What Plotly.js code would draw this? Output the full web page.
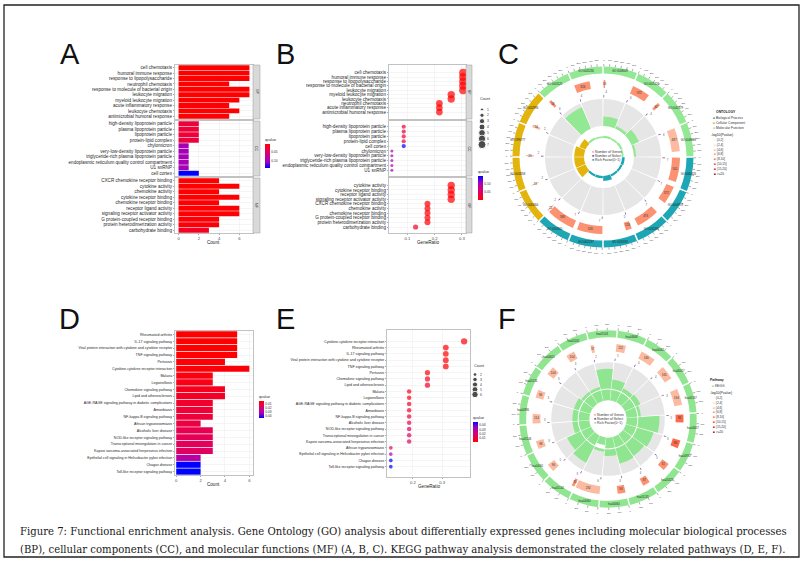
<!DOCTYPE html>
<html><head><meta charset="utf-8">
<script src="https://cdn.plot.ly/plotly-3.0.1.min.js"></script>
<style>html,body{margin:0;padding:0;background:#fff}#chart{width:805px;height:566px}</style>
</head><body><div id="chart"></div>
<script>
// ================= DATA =================
// GO terms (panel A order, by p-value)
const bpTerms = ["cell chemotaxis","humoral immune response","response to lipopolysaccharide","neutrophil chemotaxis","response to molecule of bacterial origin","leukocyte migration","myeloid leukocyte migration","acute inflammatory response","leukocyte chemotaxis","antimicrobial humoral response"];
const bpCounts = [7,7,7,5,7,7,6,5,6,5];
const bpQ = [0.002,0.002,0.002,0.003,0.002,0.002,0.003,0.004,0.003,0.004];
const ccTerms = ["high-density lipoprotein particle","plasma lipoprotein particle","lipoprotein particle","protein-lipid complex","chylomicron","very-low-density lipoprotein particle","triglyceride-rich plasma lipoprotein particle","endoplasmic reticulum quality control compartment","U1 snRNP","cell cortex"];
const ccCounts = [2,2,2,2,1,1,1,1,1,2];
const ccQ = [0.028,0.028,0.028,0.03,0.1,0.1,0.1,0.1,0.1,0.145];
const mfTerms = ["CXCR chemokine receptor binding","cytokine activity","chemokine activity","cytokine receptor binding","chemokine receptor binding","receptor ligand activity","signaling receptor activator activity","G protein-coupled receptor binding","protein heterodimerization activity","carbohydrate binding"];
const mfCounts = [4,6,4,6,4,6,6,4,4,3];
const mfQ = [0.003,0.003,0.003,0.003,0.004,0.004,0.004,0.005,0.006,0.018];
const goListSize = 23;
const goCountLevels = [1,2,3,4,5,6,7];

// KEGG pathways (panel D order, by p-value)
const keggTerms = ["Rheumatoid arthritis","IL-17 signaling pathway","Viral protein interaction with cytokine and cytokine receptor","TNF signaling pathway","Pertussis","Cytokine-cytokine receptor interaction","Malaria","Legionellosis","Chemokine signaling pathway","Lipid and atherosclerosis","AGE-RAGE signaling pathway in diabetic complications","Amoebiasis","NF-kappa B signaling pathway","African trypanosomiasis","Alcoholic liver disease","NOD-like receptor signaling pathway","Transcriptional misregulation in cancer","Kaposi sarcoma-associated herpesvirus infection","Epithelial cell signaling in Helicobacter pylori infection","Chagas disease","Toll-like receptor signaling pathway"];
const keggCounts = [5,5,5,5,4,6,3,3,4,4,3,3,3,2,3,3,3,3,2,2,2];
const keggQ = [0.0015,0.0016,0.0018,0.002,0.0025,0.003,0.004,0.005,0.006,0.007,0.008,0.009,0.010,0.011,0.013,0.014,0.015,0.016,0.029,0.047,0.047];
const keggListSize = 16;
const keggCountLevels = [2,3,4,5,6];

// GO circle (panel C), clockwise from 3 o'clock
const circGoIds = ["GO:0060326","GO:0006959","GO:0032496","GO:0030593","GO:0002237","GO:0050900","GO:0034364","GO:0034358","GO:1990777","GO:0032994","GO:0005125","GO:0045236","GO:0008009","GO:0005126","GO:0042379","GO:0048018"];
const circGoOnt = ["BP","BP","BP","BP","BP","BP","CC","CC","CC","CC","MF","MF","MF","MF","MF","MF"];
const circGoBg = [505,372,476,126,526,588,22,18,26,54,58,326,33,372,62,487];
const circGoSel = [7,7,7,5,7,7,2,2,2,2,6,4,4,6,4,6];
const circGoLogP = [7,7,7,7,7,7,5,5,5,5,7,7,7,7,7,5];
const circGoRich = [0,0,0,0,0,0,0,0,0,0,0.85,0,0.35,0.1,0.3,0.08];
const circGoInner = [0.25,0.2,0.2,0.45,0.2,0.2,0.9,0.9,0.9,0.6,0.2,0.15,0.2,0.15,0.2,0.15];

// KEGG circle (panel F)
const circKeggIds = ["hsa04657","hsa04933","hsa05323","hsa05133","hsa04064","hsa04060","hsa05144","hsa04061","hsa05146","hsa04936","hsa05134","hsa04621","hsa05202","hsa05143","hsa04668","hsa04062","hsa05417","hsa05167"];
const circKeggBg = [95,96,92,87,94,292,35,96,98,114,96,104,104,37,112,180,165,194];
const circKeggSel = [5,3,5,4,3,6,3,5,3,3,3,3,3,2,5,4,4,3];
const circKeggLogP = [9,8.5,7,7,7,5.5,7,5,5,5,5,5,5,5,5,4.5,4.5,4.5];
const circKeggRich = [0.8,0.65,0.55,0.6,0.25,0.1,0.7,0.55,0.2,0.2,0.2,0.1,0.1,0.75,0.35,0.15,0.2,0.1];
const circKeggInner = [1,1,1,1,1,0.7,1,1,1,1,1,1,1,1,1,1,1,1];

const ontLabels = ["Biological Process","Cellular Component","Molecular Function"];
const pBinLabels = ["(0,2]","(2,4]","(4,6]","(6,8]","(8,10]","(10,15]","(15,20]",">=20"];
const pBinEdges = [2,4,6,8,10,15,20];

const captionLines = [
 "Figure 7: Functional enrichment analysis. Gene Ontology (GO) analysis about differentially expressed genes including molecular biological processes",
 "(BP), cellular components (CC), and molecular functions (MF) (A, B, C). KEGG pathway analysis demonstrated the closely related pathways (D, E, F)."
];

// ================= STYLE / HELPERS =================
const W=805,H=566;
const px=x=>x/W, py=y=>1-y/H;
const dom=(a,b)=>[a/W,b/W];
const domY=(a,b)=>[1-b/H,1-a/H];
const FONT='Liberation Sans, Arial, sans-serif';
const cs=[[0,'#FF0000'],[0.25,'#E8004F'],[0.5,'#CA0089'],[0.75,'#9A00C3'],[1,'#0000FF']];
const ontColor={BP:'#1DA6B4',CC:'#E2B40C',MF:'#93E893',KEGG:'#90E690'};
const pBinColors=['#FFF5F0','#FEE0D2','#FCBBA1','#FC9272','#FB6A4A','#EF3B2C','#CB181D','#99000D'];
function pBin(v){let i=0;while(i<pBinEdges.length&&v>pBinEdges[i])i++;return i;}

const layout={width:W,height:H,margin:{l:0,r:0,t:0,b:0},paper_bgcolor:'#fff',plot_bgcolor:'#fff',
  showlegend:false,font:{family:FONT,color:'#333'},annotations:[],shapes:[]};
const traces=[];
const an=(o)=>layout.annotations.push(Object.assign({xref:'paper',yref:'paper',xanchor:'center',yanchor:'middle',showarrow:false,font:{family:FONT,size:4,color:'#333'}},o));
const sfx=i=>i===1?'':String(i);

function addCart(i,xd,yd,xopt,yopt){
  layout['xaxis'+sfx(i)]=Object.assign({domain:dom(xd[0],xd[1]),anchor:'y'+sfx(i),showline:true,mirror:true,linecolor:'#9a9a9a',linewidth:0.6,
    showgrid:true,gridcolor:'#ebebeb',gridwidth:0.5,zeroline:false,ticks:'outside',ticklen:1.5,tickwidth:0.5,tickcolor:'#555',
    tickfont:{family:FONT,size:4.2,color:'#4d4d4d'},automargin:false,fixedrange:true},xopt);
  layout['yaxis'+sfx(i)]=Object.assign({domain:domY(yd[0],yd[1]),anchor:'x'+sfx(i),type:'category',autorange:'reversed',tickmode:'linear',tick0:0,dtick:1,
    showline:true,mirror:true,linecolor:'#9a9a9a',linewidth:0.6,showgrid:true,gridcolor:'#ebebeb',gridwidth:0.5,ticks:'outside',ticklen:1.5,tickwidth:0.5,tickcolor:'#555',
    tickfont:{family:FONT,size:4.6,color:'#262626'},automargin:false,fixedrange:true},yopt);
}
function strip(x0,x1,yd,label){
  layout.shapes.push({type:'rect',xref:'paper',yref:'paper',x0:px(x0),x1:px(x1),y0:py(yd[1]),y1:py(yd[0]),fillcolor:'#d9d9d9',line:{color:'#9a9a9a',width:0.5}});
  an({x:px((x0+x1)/2),y:py((yd[0]+yd[1])/2),text:label,textangle:90,font:{family:FONT,size:3.4,color:'#1a1a1a'}});
}
function sortByCount(terms,counts,q){
  const idx=terms.map((t,i)=>i).sort((a,b)=>counts[b]-counts[a]||a-b);
  return {terms:idx.map(i=>terms[i]),counts:idx.map(i=>counts[i]),q:idx.map(i=>q[i])};
}
function cbar(x,y,len,tv,tt){
  return {x:px(x),xanchor:'left',y:py(y),yanchor:'top',len:len,lenmode:'pixels',thickness:5,xpad:0,ypad:0,outlinewidth:0,
    tickvals:tv,ticktext:tt,ticks:'',tickfont:{family:FONT,size:3.3,color:'#333'},
    title:{text:'qvalue',side:'top',font:{family:FONT,size:3.8,color:'#333'}}};
}

// ================= PANEL A (bars) & B (dots) =================
const goFacets=[{name:'BP',terms:bpTerms,counts:bpCounts,q:bpQ},{name:'CC',terms:ccTerms,counts:ccCounts,q:ccQ},{name:'MF',terms:mfTerms,counts:mfCounts,q:mfQ}];
const facetY=[[65,119],[121,176],[178,233]];
goFacets.forEach((f,k)=>{
  const i=k+1, last=k===2;
  addCart(i,[175,253],facetY[k],{range:[-0.35,7.35],tick0:0,dtick:2,showticklabels:last,ticks:last?'outside':''},{});
  traces.push({type:'bar',orientation:'h',x:f.counts,y:f.terms,xaxis:'x'+sfx(i),yaxis:'y'+sfx(i),
    marker:{color:f.q.map(v=>-v),coloraxis:'coloraxis',line:{width:0}},hoverinfo:'x+y'});
  strip(253,260,facetY[k],f.name);
  const j=k+4, s=sortByCount(f.terms,f.counts,f.q);
  addCart(j,[389,466],facetY[k],{range:[0.033,0.315],tickvals:[0.1,0.2,0.3],showticklabels:last,ticks:last?'outside':''},{});
  traces.push({type:'scatter',mode:'markers',x:s.counts.map(c=>c/goListSize),y:s.terms,xaxis:'x'+sfx(j),yaxis:'y'+sfx(j),
    marker:{size:s.counts.map(c=>3*Math.sqrt(c)),color:s.q,coloraxis:'coloraxis2',line:{width:0}},hoverinfo:'x+y'});
  strip(466,472,facetY[k],f.name);
});
layout.bargap=0.1;
an({x:px(214),y:py(243),text:'Count',font:{family:FONT,size:4.6,color:'#1a1a1a'}});
an({x:px(428),y:py(243),text:'GeneRatio',font:{family:FONT,size:4.6,color:'#1a1a1a'}});
layout.coloraxis={colorscale:cs,reversescale:true,colorbar:cbar(265,135,33,[-0.10,-0.05],['0.10','0.05'])};
layout.coloraxis2={colorscale:cs,colorbar:cbar(478,167,33,[0.05,0.10],['0.05','0.10'])};

addCart(9,[478,486],[104,152],{range:[-1,1],showline:false,showgrid:false,showticklabels:false,ticks:''},
  {side:'right',showline:false,showgrid:false,ticks:'',tickfont:{family:FONT,size:3.3,color:'#333'}});
traces.push({type:'scatter',mode:'markers',x:goCountLevels.map(()=>0),y:goCountLevels.map(String),xaxis:'x9',yaxis:'y9',
  marker:{size:goCountLevels.map(c=>3*Math.sqrt(c)),color:'#000'},hoverinfo:'skip'});
an({x:px(478),xanchor:'left',y:py(99),text:'Count',font:{family:FONT,size:3.8,color:'#333'}});

// ================= PANEL D (bars) & E (dots) =================
addCart(7,[175,253],[331,475],{range:[-0.1,6.3],tick0:0,dtick:2},{tickfont:{family:FONT,size:3.6,color:'#262626'}});
traces.push({type:'bar',orientation:'h',x:keggCounts,y:keggTerms,xaxis:'x7',yaxis:'y7',
  marker:{color:keggQ.map(v=>-v),coloraxis:'coloraxis3',line:{width:0}},hoverinfo:'x+y'});
an({x:px(214),y:py(484),text:'Count',font:{family:FONT,size:4.6,color:'#1a1a1a'}});
layout.coloraxis3={colorscale:cs,reversescale:true,colorbar:cbar(259,392,26,[-0.04,-0.03,-0.02,-0.01],['0.04','0.03','0.02','0.01'])};

const ke=sortByCount(keggTerms,keggCounts,keggQ);
addCart(8,[387,470],[330,477],{range:[0.112,0.395],tickvals:[0.2,0.3]},{tickfont:{family:FONT,size:3.6,color:'#262626'}});
traces.push({type:'scatter',mode:'markers',x:ke.counts.map(c=>c/keggListSize),y:ke.terms,xaxis:'x8',yaxis:'y8',
  marker:{size:ke.counts.map(c=>2.6*Math.sqrt(c)),color:ke.q,coloraxis:'coloraxis4',line:{width:0}},hoverinfo:'x+y'});
an({x:px(429),y:py(486),text:'GeneRatio',font:{family:FONT,size:4.6,color:'#1a1a1a'}});
layout.coloraxis4={colorscale:cs,colorbar:cbar(473,413,29,[0.01,0.02,0.03,0.04],['0.01','0.02','0.03','0.04'])};
addCart(10,[471,479],[370,400],{range:[-1,1],showline:false,showgrid:false,showticklabels:false,ticks:''},
  {side:'right',showline:false,showgrid:false,ticks:'',tickfont:{family:FONT,size:3.3,color:'#333'}});
traces.push({type:'scatter',mode:'markers',x:keggCountLevels.map(()=>0),y:keggCountLevels.map(String),xaxis:'x10',yaxis:'y10',
  marker:{size:keggCountLevels.map(c=>2.6*Math.sqrt(c)),color:'#000'},hoverinfo:'skip'});
an({x:px(472),xanchor:'left',y:py(366),text:'Count',font:{family:FONT,size:3.8,color:'#333'}});

// ================= CIRCLE PANELS (C, F) =================
function addCircle(sub,cfg){
  const n=cfg.ids.length,w=360/n,span=w-cfg.gap,R=cfg.R;
  const st=cfg.ids.map((_,i)=>cfg.start+i*w+cfg.gap/2);
  const mid=st.map(s=>s+span/2);
  const bgMax=Math.max(...cfg.bg);
  const ring=cfg.ont.map(o=>ontColor[o]);
  const base={subplot:sub,hoverinfo:'skip'};
  traces.push(Object.assign({type:'barpolar',theta:mid,r:mid.map(()=>R.t4T),base:R.t4B,width:span,marker:{color:'#E6E6E6',line:{width:0}}},base));
  traces.push(Object.assign({type:'barpolar',theta:mid,r:cfg.rich.map(v=>v*R.t4T),base:R.t4B,width:span,marker:{color:ring,line:{width:0}}},base));
  traces.push(Object.assign({type:'barpolar',theta:mid,r:cfg.inner.map(v=>v*R.inT),base:R.inB,width:span,marker:{color:ring,line:{width:0}}},base));
  traces.push(Object.assign({type:'barpolar',theta:mid,r:mid.map(()=>R.outT),base:R.outB,width:span,marker:{color:ring,line:{width:0}}},base));
  const tt=[],tr=[],lt=[],lr=[],lx=[];
  st.forEach(s=>{for(let v=0;v<=bgMax;v+=cfg.step){const th=s+v/bgMax*span;tt.push(th,th,null);tr.push(R.outB+R.outT,R.outB+R.outT+2.5,null);lt.push(th);lr.push(R.outB+R.outT+6);lx.push(String(v));}});
  traces.push(Object.assign({type:'scatterpolar',mode:'lines',theta:tt,r:tr,line:{color:'#333',width:0.4}},base));
  traces.push(Object.assign({type:'scatterpolar',mode:'text',theta:lt,r:lr,text:lx,textfont:{family:FONT,size:2.3,color:'#333'}},base));
  traces.push(Object.assign({type:'scatterpolar',mode:'text',theta:mid,r:mid.map(()=>R.outB+R.outT/2),text:cfg.ids,
    textfont:{family:FONT,size:2.7,color:'#222'}},base));
  const L=cfg.bg.map(v=>v/bgMax*span);
  traces.push(Object.assign({type:'barpolar',theta:st.map((s,i)=>s+L[i]/2),r:st.map(()=>R.t2T),base:R.t2B,width:L,
    marker:{color:cfg.logp.map(v=>pBinColors[pBin(v)]),line:{width:0}}},base));
  traces.push(Object.assign({type:'scatterpolar',mode:'text',theta:st.map((s,i)=>s+L[i]/2),r:st.map(()=>R.t2B+R.t2T/2),text:cfg.bg.map(String),
    textfont:{family:FONT,size:3,color:'#333'}},base));
  const L3=cfg.sel.map(v=>Math.max(v/bgMax*span,0.6));
  traces.push(Object.assign({type:'barpolar',theta:st.map((s,i)=>s+L3[i]/2),r:st.map(()=>2.5),base:R.t3B,width:L3,marker:{color:'#6A3D9A',line:{width:0}}},base));
  traces.push(Object.assign({type:'scatterpolar',mode:'text',theta:st.map(s=>s+2.5),r:st.map(()=>R.t3B+5),text:cfg.sel.map(String),
    textfont:{family:FONT,size:2.8,color:'#555'}},base));
}
const Rc={inB:19,inT:11,t4B:31,t4T:27,t3B:59.5,t2B:69,t2T:8,outB:83.5,outT:7};
addCircle('polar',{ids:circGoIds,ont:circGoOnt,bg:circGoBg,sel:circGoSel,logp:circGoLogP,rich:circGoRich,inner:circGoInner,start:90,gap:1,step:100,R:Rc});
addCircle('polar2',{ids:circKeggIds,ont:circKeggIds.map(()=>'KEGG'),bg:circKeggBg,sel:circKeggSel,logp:circKeggLogP,rich:circKeggRich,inner:circKeggInner,start:86,gap:1,step:100,R:Rc});
const polarBase={bgcolor:'rgba(0,0,0,0)',radialaxis:{visible:false,range:[0,100]},angularaxis:{visible:false,rotation:90,direction:'clockwise'}};
layout.polar=Object.assign({domain:{x:dom(503,703),y:domY(57,257)}},JSON.parse(JSON.stringify(polarBase)));
layout.polar2=Object.assign({domain:{x:dom(508,708),y:domY(319,519)}},JSON.parse(JSON.stringify(polarBase)));
layout.polar2.radialaxis.range=[0,102];

function centerLegend(cx,cy,richColor){
  const items=[['#F6A9A9','Number of Genes'],['#7E3FA8','Number of Select'],[richColor,'Rich Factor(0~1)']];
  items.forEach((it,k)=>an({x:px(cx),xanchor:'left',y:py(cy+k*4.2),text:'<span style="color:'+it[0]+'">■</span> '+it[1],font:{family:FONT,size:3.4,color:'#333'}}));
}
centerLegend(590,152,ontColor.BP);
centerLegend(592,415,ontColor.KEGG);
function pLegend(x,y0){
  an({x:px(x-3),xanchor:'left',y:py(y0),text:'-log10(Pvalue)',font:{family:FONT,size:3.4,color:'#222'}});
  pBinLabels.forEach((l,k)=>an({x:px(x),xanchor:'left',y:py(y0+5+k*4.8),text:'<span style="color:'+pBinColors[k]+'">■</span> '+l,font:{family:FONT,size:3.2,color:'#333'}}));
}
an({x:px(714),xanchor:'left',y:py(112),text:'<b>ONTOLOGY</b>',font:{family:FONT,size:3.4,color:'#222'}});
['BP','CC','MF'].forEach((o,k)=>an({x:px(711),xanchor:'left',y:py(118+k*5),text:'<span style="color:'+ontColor[o]+'">■</span> '+ontLabels[k],font:{family:FONT,size:3.3,color:'#333'}}));
pLegend(712,135);
an({x:px(708),xanchor:'left',y:py(380),text:'<b>Pathway</b>',font:{family:FONT,size:3.4,color:'#222'}});
an({x:px(710),xanchor:'left',y:py(386),text:'<span style="color:'+ontColor.KEGG+'">■</span> KEGG',font:{family:FONT,size:3.3,color:'#333'}});
pLegend(711,393);

[['A',70,54],['B',285,54],['C',508,54],['D',69,319],['E',285,319],['F',507,319]].forEach(p=>
  an({x:px(p[1]),y:py(p[2]),text:p[0],font:{family:FONT,size:29,color:'#111'}}));
captionLines.forEach((t,k)=>an({x:px(18),xanchor:'left',y:py(531+k*18),text:t,font:{family:'DejaVu Serif, Liberation Serif, serif',size:10.1,color:'#1a1a1a'}}));
layout.shapes.push({type:'rect',xref:'paper',yref:'paper',x0:px(4),x1:px(799),y0:py(557),y1:py(5),line:{color:'#222',width:1.3}});

Plotly.newPlot('chart',traces,layout,{staticPlot:true,displayModeBar:false});
</script></body></html>
